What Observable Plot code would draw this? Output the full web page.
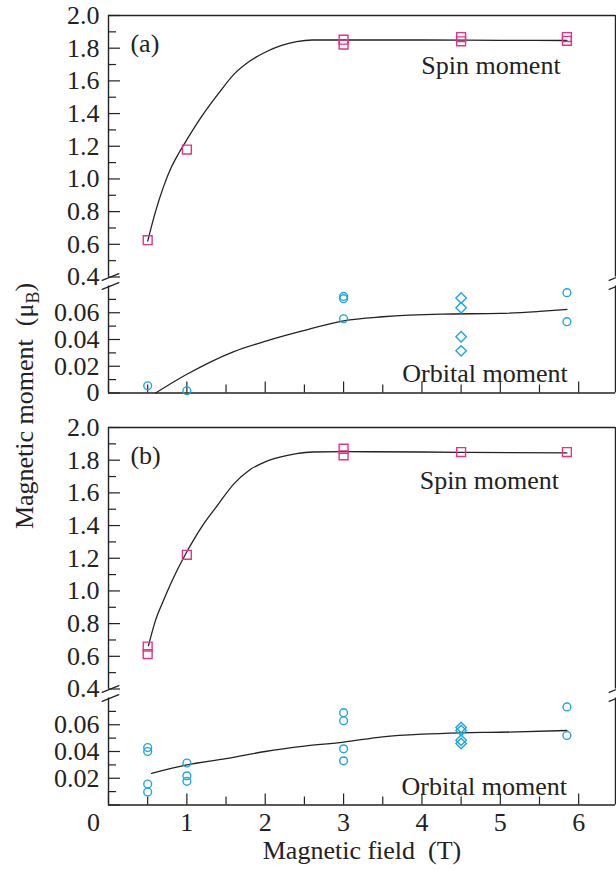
<!DOCTYPE html>
<html>
<head>
<meta charset="utf-8">
<script src="https://cdn.jsdelivr.net/npm/d3@7"></script>
<script src="https://cdn.jsdelivr.net/npm/@observablehq/plot@0.6"></script>
<style>
  html, body { margin: 0; padding: 0; background: #fff; }
  #fig { position: relative; width: 616px; height: 871px; font-family: "Liberation Serif", "Times New Roman", serif; color: #222; }
  #fig svg { display: block; }
  #ylab { position: absolute; left: 25px; top: 406px; transform: translate(-50%, -50%) rotate(-90deg);
          font-size: 26px; white-space: nowrap; line-height: 1; }
  #ylab .sub { font-size: 18px; position: relative; top: 6px; }
</style>
</head>
<body>
<div id="fig"><div id="ylab">Magnetic moment&nbsp;&nbsp;(μ<span class="sub">B</span>)</div></div>
<script>
// ---------- axis ticks ----------
const xMajorTicks = [0, 1, 2, 3, 4, 5, 6];
const xMinorTicks = [0.5, 1.5, 2.5, 3.5, 4.5, 5.5];
const spinMajorTicks = [0.4, 0.6, 0.8, 1.0, 1.2, 1.4, 1.6, 1.8, 2.0];
const spinMinorTicks = [0.5, 0.7, 0.9, 1.1, 1.3, 1.5, 1.7, 1.9];
const orbMajorTicks = [0, 0.02, 0.04, 0.06];
const orbMinorTicks = [0.01, 0.03, 0.05, 0.07];
const breakValues = [0.08, 0.4];   // broken y axis: orbital section top, spin section bottom
const xAxisTitle = "Magnetic field  (T)";

// ---------- panel (a) ----------
const spinFieldA = [0.5, 1, 3, 3, 4.5, 4.5, 5.85, 5.85];
const spinValueA = [0.625, 1.18, 1.852, 1.822, 1.868, 1.842, 1.868, 1.845];
const orbCircleFieldA = [0.5, 1, 3, 3, 3, 5.85, 5.85];
const orbCircleValueA = [0.0054, 0.0017, 0.0722, 0.0705, 0.0555, 0.075, 0.0533];
const orbDiamondFieldA = [4.5, 4.5, 4.5, 4.5];
const orbDiamondValueA = [0.071, 0.0637, 0.042, 0.0315];
const spinFitFieldA = [0.5, 0.6, 0.7, 0.8, 0.9, 1.0, 1.2, 1.4, 1.6, 1.8, 2.0, 2.2, 2.4, 2.6, 3, 4, 5, 5.85];
const spinFitValueA = [0.62, 0.80, 0.95, 1.07, 1.16, 1.24, 1.39, 1.52, 1.64, 1.72, 1.775, 1.815, 1.84, 1.85, 1.85, 1.85, 1.848, 1.847];
const orbFitFieldA = [0.6, 1.0, 1.6, 2.02, 2.45, 3.0, 3.5, 4.25, 5.0, 5.5, 5.85];
const orbFitValueA = [0, 0.014, 0.031, 0.039, 0.046, 0.054, 0.057, 0.059, 0.0595, 0.061, 0.0625];

// ---------- panel (b) ----------
const spinFieldB = [0.5, 0.5, 1, 3, 3, 4.5, 5.85];
const spinValueB = [0.66, 0.614, 1.221, 1.87, 1.83, 1.85, 1.85];
const orbCircleFieldB = [0.5, 0.5, 0.5, 0.5, 1, 1, 1, 3, 3, 3, 3, 5.85, 5.85];
const orbCircleValueB = [0.043, 0.040, 0.0157, 0.0097, 0.0314, 0.0218, 0.0177, 0.069, 0.063, 0.042, 0.033, 0.0733, 0.052];
const orbDiamondFieldB = [4.5, 4.5, 4.5, 4.5];
const orbDiamondValueB = [0.058, 0.0557, 0.0484, 0.046];
const spinFitFieldB = [0.51, 0.6, 0.7, 0.8, 0.9, 1.0, 1.2, 1.4, 1.6, 1.8, 2.0, 2.2, 2.4, 2.6, 3, 4, 4.5, 5.85];
const spinFitValueB = [0.665, 0.82, 0.94, 1.05, 1.15, 1.24, 1.40, 1.53, 1.655, 1.74, 1.79, 1.82, 1.84, 1.85, 1.852, 1.85, 1.848, 1.845];
const orbFitFieldB = [0.55, 1, 1.5, 2, 2.5, 3, 3.5, 4, 4.5, 5, 5.85];
const orbFitValueB = [0.0237, 0.030, 0.0346, 0.040, 0.044, 0.047, 0.051, 0.053, 0.054, 0.0544, 0.0557];

const panelLabels = ["(a)", "(b)"];
const spinLabel = "Spin moment";
const orbLabel = "Orbital moment";

// ---------- drawing ----------
const pts = (xs, ys) => xs.map((x, i) => ({x, y: ys[i]}));
const W = 616, ML = 108, MR = 1, MT = 15, BOTTOM = 392.5;
const xMax = 6.47;
const INK = "#222", PINK = "#e6338a", CYAN = "#1fa6dc";
const plotW = W - ML - MR;
const slash = {draw(ctx, l) { ctx.moveTo(0, 0); ctx.lineTo(0, -l); }};
const fmtSpin = d3.format(".1f");
const fmtOrb = d => d === 0 ? "0" : d.toFixed(2);

function panel(p) {
  const H = p.height;
  const plotH = BOTTOM - MT;
  const marks = [
    // frame pieces (broken axis)
    Plot.ruleY([2.0], {stroke: INK, strokeWidth: 1.4}),
    Plot.ruleY([0], {stroke: INK, strokeWidth: 1.4}),
    Plot.ruleX([0, xMax], {y1: breakValues[1], y2: 2.0, stroke: INK, strokeWidth: 1.4}),
    Plot.ruleX([0, xMax], {y1: 0, y2: breakValues[0], stroke: INK, strokeWidth: 1.4}),
    // break marks
    Plot.vector([0, xMax].flatMap(x => breakValues.map(y => ({x, y}))),
      {x: "x", y: "y", rotate: 68, length: 18, anchor: "middle", shape: slash, stroke: INK, strokeWidth: 1.3, dx: 2}),
    // inward ticks
    Plot.tickY(spinMajorTicks.concat(orbMajorTicks), {insetRight: plotW - 12, stroke: INK, strokeWidth: 1.2}),
    Plot.tickY(spinMinorTicks.concat(orbMinorTicks), {insetRight: plotW - 8, stroke: INK, strokeWidth: 1.2}),
    Plot.tickX(xMajorTicks, {insetTop: plotH - 11, stroke: INK, strokeWidth: 1.2}),
    Plot.tickX(xMinorTicks, {insetTop: plotH - 8, stroke: INK, strokeWidth: 1.2}),
    // tick labels
    Plot.axisY(spinMajorTicks, {tickSize: 0, tickPadding: 9, tickFormat: fmtSpin, label: null}),
    Plot.axisY(p.xLabels ? orbMajorTicks.filter(d => d !== 0) : orbMajorTicks,
      {tickSize: 0, tickPadding: 9, tickFormat: fmtOrb, label: null}),
    // fitted curves
    Plot.line(p.spinFit, {x: "x", y: "y", curve: "monotone-x", stroke: INK, strokeWidth: 1.3}),
    Plot.line(p.orbFit, {x: "x", y: "y", curve: "monotone-x", stroke: INK, strokeWidth: 1.3}),
    // measured points
    Plot.dot(p.spin, {x: "x", y: "y", symbol: "square", r: 5, stroke: PINK, fill: "none", strokeWidth: 1.4}),
    Plot.dot(p.orbCircle, {x: "x", y: "y", symbol: "circle", r: 3.9, stroke: CYAN, fill: "none", strokeWidth: 1.4}),
    Plot.dot(p.orbDiamond, {x: "x", y: "y", symbol: "diamond2", r: 4.7, stroke: CYAN, fill: "none", strokeWidth: 1.4}),
    // annotations
    Plot.text([p.label], {x: 0.28, y: 1.83, text: d => d, textAnchor: "start", fontSize: 26, fill: INK}),
    Plot.text([spinLabel], {x: p.spinLabelX, y: p.spinLabelY, text: d => d, textAnchor: "end", fontSize: 26, fill: INK}),
    Plot.text([orbLabel], {x: p.orbLabelX, y: p.orbLabelY, text: d => d, textAnchor: "end", fontSize: 26, fill: INK})
  ];
  if (p.xLabels) {
    marks.push(Plot.axisX(xMajorTicks.filter(d => d !== 0), {tickSize: 0, tickPadding: 8, label: null}));
    marks.push(Plot.axisX([0], {tickSize: 0, tickPadding: 8, dx: -15, label: null}));
    marks.push(Plot.text([xAxisTitle], {frameAnchor: "bottom", dy: 54, lineAnchor: "bottom", text: d => d, fontSize: 26, fill: INK}));
  }
  return Plot.plot({
    width: W, height: H,
    marginLeft: ML, marginRight: MR, marginTop: MT, marginBottom: H - BOTTOM,
    x: {domain: [0, xMax], axis: null},
    y: {type: "linear", domain: [0, breakValues[0], breakValues[1], 2.0], range: [BOTTOM, 285.5, 276.5, MT], axis: null},
    style: {fontFamily: "Liberation Serif, Times New Roman, serif", fontSize: "26px", color: INK, background: "transparent", overflow: "visible"},
    marks
  });
}

const fig = document.getElementById("fig");
fig.appendChild(panel({
  height: 412, label: panelLabels[0], xLabels: false,
  spin: pts(spinFieldA, spinValueA), orbCircle: pts(orbCircleFieldA, orbCircleValueA), orbDiamond: pts(orbDiamondFieldA, orbDiamondValueA),
  spinFit: pts(spinFitFieldA, spinFitValueA), orbFit: pts(orbFitFieldA, orbFitValueA),
  spinLabelX: 5.77, spinLabelY: 1.69, orbLabelX: 5.86, orbLabelY: 0.0146
}));
fig.appendChild(panel({
  height: 459, label: panelLabels[1], xLabels: true,
  spin: pts(spinFieldB, spinValueB), orbCircle: pts(orbCircleFieldB, orbCircleValueB), orbDiamond: pts(orbDiamondFieldB, orbDiamondValueB),
  spinFit: pts(spinFitFieldB, spinFitValueB), orbFit: pts(orbFitFieldB, orbFitValueB),
  spinLabelX: 5.75, spinLabelY: 1.675, orbLabelX: 5.85, orbLabelY: 0.0138
}));
</script>
</body>
</html>
